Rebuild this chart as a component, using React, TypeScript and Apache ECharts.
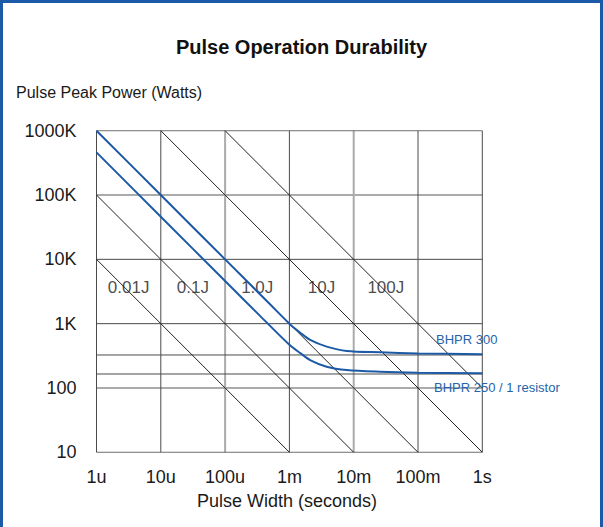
import React, { useEffect, useRef } from "react";
import * as echarts from "echarts";

// ---- data ----
const xTicks = [1e-6, 1e-5, 1e-4, 1e-3, 1e-2, 1e-1, 1];
const xTickLabels = ["1u", "10u", "100u", "1m", "10m", "100m", "1s"];
const yTicks = [10, 100, 1e3, 1e4, 1e5, 1e6];
const yTickLabels = ["10", "100", "1K", "10K", "100K", "1000K"];
const refLevels = [326, 165];

const energyLabels = ["0.01J", "0.1J", "1.0J", "10J", "100J"];
const energyLines: number[][][] = [
  [[1e-6, 1e4], [1e-3, 10]],
  [[1e-6, 1e5], [1e-2, 10]],
  [[1e-6, 1e6], [1e-1, 10]],
  [[1e-5, 1e6], [1, 10]],
  [[1e-4, 1e6], [1, 100]],
];
const energyLabelAt: number[][] = [
  [3.16e-6, 3590],
  [3.16e-5, 3590],
  [3.16e-4, 3590],
  [3.16e-3, 3590],
  [3.16e-2, 3590],
];

const bhpr300T = [1e-6, 1e-5, 1e-4, 5e-4, 1e-3, 1.46e-3, 2.1e-3, 3.8e-3, 7.8e-3, 2.56e-2, 1e-1, 1];
const bhpr300P = [1e6, 1e5, 1e4, 2000, 1000, 730, 558, 439, 376, 359, 345, 334];
const bhpr250T = [1e-6, 1e-5, 1e-4, 3.5e-4, 1e-3, 1.5e-3, 2.1e-3, 3.8e-3, 7.8e-3, 2.56e-2, 1e-1, 1];
const bhpr250P = [460000, 46000, 4600, 1320, 470, 345, 272, 214, 190, 179, 173, 169];

// ---- styles ----
const lightX = [1e-4, 1e-2];
const lightY = [100, 1e5];
const DARK = "#4a4a4a";
const LIGHT = "#ababab";
const BLUE = "#1d5aa6";
const TEXT = "#1a1a1a";
const FONT = "Arial, 'Liberation Sans', Helvetica, sans-serif";

const near = (a: number, b: number) => Math.abs(Math.log10(a) - Math.log10(b)) < 1e-6;
const idxOf = (ticks: number[], v: number) => {
  const e = Math.round(Math.log10(v));
  return ticks.findIndex((t) => Math.round(Math.log10(t)) === e);
};

export default function App() {
  const ref = useRef<HTMLDivElement>(null);
  useEffect(() => {
    if (!ref.current) return;
    const chart = echarts.init(ref.current, undefined, { renderer: "svg" });

    const yMin = yTicks[0];
    const yMax = yTicks[yTicks.length - 1];
    const xMin = xTicks[0];
    const xMax = xTicks[xTicks.length - 1];

    const series: any[] = [];
    const gridLine = (data: number[][], light: boolean) => ({
      type: "line",
      data,
      symbol: "none",
      silent: true,
      z: light ? 1 : 2,
      lineStyle: { color: light ? LIGHT : DARK, width: light ? 2 : 1 },
    });
    xTicks.forEach((v) => {
      const light = lightX.some((l) => near(l, v));
      series.push(gridLine([[v, yMin], [v, yMax]], light));
    });
    yTicks.forEach((v) => {
      const light = lightY.some((l) => near(l, v));
      series.push(gridLine([[xMin, v], [xMax, v]], light));
    });
    refLevels.forEach((v) => series.push(gridLine([[xMin, v], [xMax, v]], false)));

    energyLines.forEach((pts, i) => {
      series.push({
        type: "line",
        name: energyLabels[i],
        data: pts,
        symbol: "none",
        silent: true,
        z: 3,
        lineStyle: { color: "#222", width: 1 },
      });
    });
    series.push({
      type: "scatter",
      symbolSize: 0,
      silent: true,
      z: 4,
      data: energyLabelAt.map((p, i) => ({ value: p, name: energyLabels[i] })),
      label: {
        show: true,
        position: "inside",
        formatter: (p: any) => p.name,
        fontSize: 17,
        color: TEXT,
        fontFamily: FONT,
      },
    });
    series.push({
      type: "line",
      name: "BHPR 300",
      data: bhpr300T.map((t, i) => [t, bhpr300P[i]]),
      symbol: "none",
      smooth: 0.3,
      z: 5,
      lineStyle: { color: BLUE, width: 2 },
    });
    series.push({
      type: "line",
      name: "BHPR 250 / 1 resistor",
      data: bhpr250T.map((t, i) => [t, bhpr250P[i]]),
      symbol: "none",
      smooth: 0.3,
      z: 5,
      lineStyle: { color: BLUE, width: 2 },
    });

    chart.setOption({
      animation: false,
      backgroundColor: "#ffffff",
      textStyle: { fontFamily: FONT },
      grid: { left: 96.5, top: 130.7, right: 120.7, bottom: 74.7, containLabel: false },
      xAxis: {
        type: "log",
        logBase: 10,
        min: xMin,
        max: xMax,
        axisLine: { show: false },
        axisTick: { show: false },
        splitLine: { show: false },
        axisLabel: {
          margin: 16,
          fontSize: 18,
          color: TEXT,
          fontFamily: FONT,
          formatter: (v: number) => xTickLabels[idxOf(xTicks, v)] ?? "",
        },
      },
      yAxis: {
        type: "log",
        logBase: 10,
        min: yMin,
        max: yMax,
        axisLine: { show: false },
        axisTick: { show: false },
        splitLine: { show: false },
        axisLabel: {
          margin: 20,
          fontSize: 18,
          color: TEXT,
          fontFamily: FONT,
          formatter: (v: number) => yTickLabels[idxOf(yTicks, v)] ?? "",
        },
      },
      graphic: [
        {
          type: "rect",
          shape: { x: 1.5, y: 1.5, width: 600, height: 600 },
          style: { fill: "none", stroke: "#1a5aa8", lineWidth: 3 },
          silent: true,
          z: 100,
        },
        {
          type: "text",
          x: 301.5,
          y: 47,
          style: {
            text: "Pulse Operation Durability",
            fontSize: 20,
            fontWeight: "bold",
            fontFamily: FONT,
            fill: "#111",
            align: "center",
            verticalAlign: "middle",
          },
        },
        {
          type: "text",
          x: 16,
          y: 92,
          style: {
            text: "Pulse Peak Power (Watts)",
            fontSize: 16,
            fontFamily: FONT,
            fill: TEXT,
            align: "left",
            verticalAlign: "middle",
          },
        },
        {
          type: "text",
          x: 287,
          y: 501,
          style: {
            text: "Pulse Width (seconds)",
            fontSize: 18,
            fontFamily: FONT,
            fill: TEXT,
            align: "center",
            verticalAlign: "middle",
          },
        },
        {
          type: "text",
          x: 436,
          y: 339,
          style: {
            text: "BHPR 300",
            fontSize: 13,
            fontFamily: FONT,
            fill: "#2563ab",
            align: "left",
            verticalAlign: "middle",
          },
          z: 50,
        },
        {
          type: "text",
          x: 434,
          y: 387,
          style: {
            text: "BHPR 250 / 1 resistor",
            fontSize: 13,
            fontFamily: FONT,
            fill: "#2563ab",
            align: "left",
            verticalAlign: "middle",
          },
          z: 50,
        },
      ],
      series,
    });
    return () => chart.dispose();
  }, []);
  return (
    <div
      ref={ref}
      style={{ position: "fixed", left: 0, top: 0, width: 603, height: 527 }}
    />
  );
}
